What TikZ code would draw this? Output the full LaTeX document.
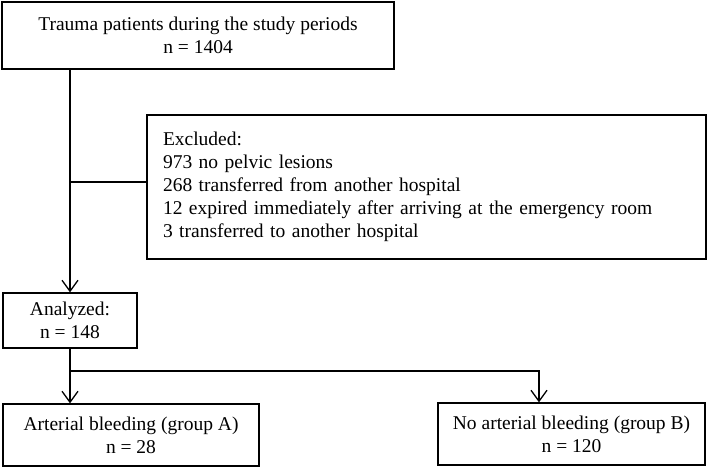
\documentclass[tikz,border=0pt]{standalone}
\usepackage{fontspec}
\setmainfont{Liberation Serif}
\usetikzlibrary{arrows.meta,calc}
\begin{document}
\begin{tikzpicture}[x=1pt,y=1pt,
  box/.style={draw=black,line width=1.3pt,inner sep=0pt,align=center,
    font=\fontsize{19.5}{23}\selectfont},
  conn/.style={line width=1.3pt,draw=black},
  arr/.style={conn,-{Straight Barb[length=11pt,width=16pt,line width=1.3pt]}}]
\useasboundingbox (0,0) rectangle (709,-469);
\node[box,minimum width=392,minimum height=67] (top) at (198,-35.5)
  {Trauma patients during the study periods\\n = 1404};
\node[box,minimum width=559,minimum height=144,text width=527,align=left] (excl) at (426.5,-187)
  {Excluded:\\973 no pelvic lesions\\268 transferred from another hospital\\12 expired immediately after arriving at the emergency room\\3 transferred to another hospital};
\node[box,minimum width=134,minimum height=55] (ana) at (70,-320.5)
  {Analyzed:\\n = 148};
\node[box,minimum width=256,minimum height=62] (ga) at (131,-435)
  {Arterial bleeding (group A)\\n = 28};
\node[box,minimum width=267,minimum height=62] (gb) at (571.5,-434)
  {No arterial bleeding (group B)\\n = 120};
\coordinate (ej) at ($(excl.west)+(0,5)$);
\coordinate (bj) at (539,-371);
\draw[arr] (top.south -| ana.north) -- (ana.north);
\draw[conn] (ana.north |- ej) -- (ej);
\draw[arr] (ana.south) -- (ana.south |- ga.north);
\draw[arr] (ana.south |- bj) -- (bj) -- (bj |- gb.north);
\end{tikzpicture}
\end{document}
